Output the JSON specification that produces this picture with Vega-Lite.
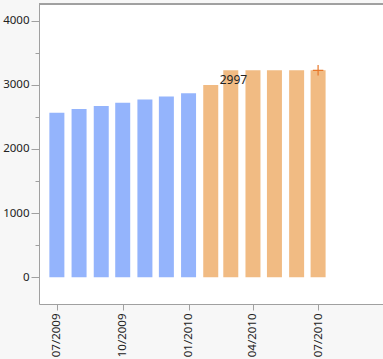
{
  "$schema": "https://vega.github.io/schema/vega-lite/v6.json",
  "autosize": {"type": "none"},
  "padding": {"left": 39, "top": 4, "right": 0, "bottom": 55},
  "width": 344,
  "height": 300,
  "background": "#f7f7f7",
  "view": {"fill": "white", "stroke": null},
  "config": {
    "font": "Noto Sans",
    "axis": {"domainColor": "#a0a0a0", "tickColor": "#a0a0a0", "labelColor": "#222222", "labelFontSize": 11.5, "grid": false, "title": null, "labelFont": "Noto Sans"}
  },
  "data": {
    "values": [
      {"date": "2009-07-01", "value": 2563, "series": "actual"},
      {"date": "2009-08-01", "value": 2621, "series": "actual"},
      {"date": "2009-09-01", "value": 2668, "series": "actual"},
      {"date": "2009-10-01", "value": 2719, "series": "actual"},
      {"date": "2009-11-01", "value": 2770, "series": "actual"},
      {"date": "2009-12-01", "value": 2817, "series": "actual"},
      {"date": "2010-01-01", "value": 2870, "series": "actual"},
      {"date": "2010-02-01", "value": 2997, "series": "forecast"},
      {"date": "2010-03-01", "value": 3225, "series": "forecast"},
      {"date": "2010-04-01", "value": 3225, "series": "forecast"},
      {"date": "2010-05-01", "value": 3225, "series": "forecast"},
      {"date": "2010-06-01", "value": 3225, "series": "forecast"},
      {"date": "2010-07-01", "value": 3225, "series": "forecast"}
    ]
  },
  "encoding": {
    "x": {
      "field": "date", "type": "temporal",
      "scale": {"type": "utc", "domain": [{"year": 2009, "month": 6, "date": 13, "utc": true}, {"year": 2010, "month": 9, "date": 22, "hours": 17, "utc": true}]},
      "axis": {
        "values": [{"year": 2009, "month": 7, "date": 1, "utc": true}, {"year": 2009, "month": 10, "date": 1, "utc": true}, {"year": 2010, "month": 1, "date": 1, "utc": true}, {"year": 2010, "month": 4, "date": 1, "utc": true}, {"year": 2010, "month": 7, "date": 1, "utc": true}],
        "format": "%m/%Y", "labelAngle": -90, "labelAlign": "right", "labelBaseline": "middle", "tickSize": 6, "labelPadding": 3
      }
    }
  },
  "layer": [
    {
      "mark": {"type": "bar", "size": 15},
      "encoding": {
        "y": {
          "field": "value", "type": "quantitative",
          "scale": {"domain": [-416, 4259], "nice": false, "zero": false},
          "axis": {"values": [0, 1000, 2000, 3000, 4000], "format": "d", "tickSize": 8, "labelPadding": 2}
        },
        "color": {"field": "series", "type": "nominal", "legend": null,
          "scale": {"domain": ["actual", "forecast"], "range": ["#94b4fc", "#f1bb83"]}}
      }
    },
    {
      "transform": [{"filter": "datum.series == 'forecast' && month(datum.date) == 1"}],
      "mark": {"type": "text", "align": "left", "baseline": "alphabetic", "dx": 9, "dy": -1, "fontSize": 12, "color": "#222222", "font": "Noto Sans"},
      "encoding": {
        "y": {"field": "value", "type": "quantitative", "axis": null},
        "text": {"field": "value", "type": "quantitative"}
      }
    },
    {
      "transform": [{"filter": "datum.series == 'forecast' && month(datum.date) == 6"}],
      "mark": {"type": "point", "shape": "M-1,0H1M0,-1V1", "size": 110, "stroke": "#e8782a", "strokeWidth": 1.2, "filled": false, "opacity": 1},
      "encoding": {"y": {"field": "value", "type": "quantitative", "axis": null}}
    },
    {
      "mark": {"type": "rule", "color": "#a0a0a0", "strokeWidth": 1},
      "encoding": {"y": {"datum": 4259, "type": "quantitative", "axis": null}, "x": null}
    },
    {
      "mark": {"type": "tick", "opacity": 0},
      "encoding": {
        "y": {"field": "value", "type": "quantitative",
          "axis": {"values": [500, 1500, 2500, 3500], "labels": false, "tickSize": 4, "domain": false, "orient": "left"}}
      }
    }
  ],
  "resolve": {"axis": {"y": "independent"}}
}
